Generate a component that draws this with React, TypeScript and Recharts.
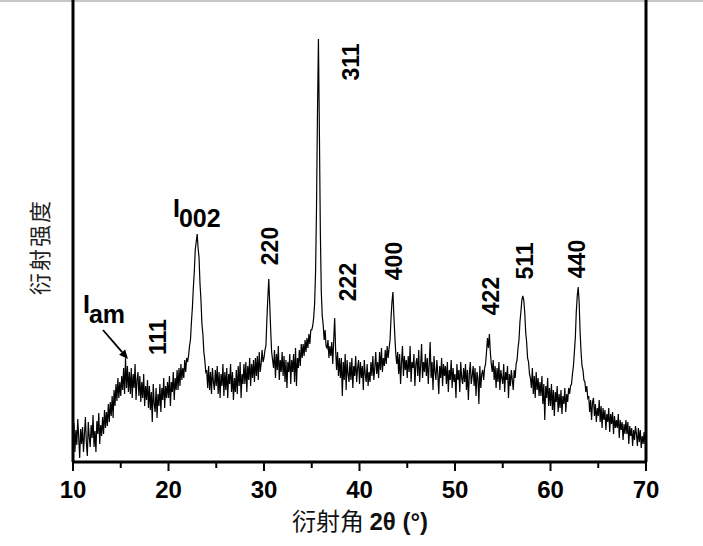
import React from 'react';
import { LineChart, Line, XAxis, YAxis, ReferenceLine, ReferenceDot } from 'recharts';

// Diffraction intensity, one row per degree (2θ = row start + 0.0 … 0.9)
const rowStarts = [10, 11, 12, 13, 14, 15, 16, 17, 18, 19, 20, 21, 22, 23, 24, 25, 26, 27, 28, 29, 30, 31, 32, 33, 34, 35, 36, 37, 38, 39, 40, 41, 42, 43, 44, 45, 46, 47, 48, 49, 50, 51, 52, 53, 54, 55, 56, 57, 58, 59, 60, 61, 62, 63, 64, 65, 66, 67, 68, 69];
const intensityRows: number[][] = [
  [21, 39, 10, 32, 17, 43, 24, 4, 33, 18],
  [35, 10, 28, 45, 19, 6, 40, 25, 15, 37],
  [24, 47, 15, 31, 10, 41, 28, 49, 18, 37],
  [26, 45, 28, 52, 34, 50, 36, 58, 40, 60],
  [46, 66, 44, 72, 56, 78, 61, 84, 64, 80],
  [66, 86, 72, 94, 68, 104, 74, 96, 70, 90],
  [68, 94, 64, 88, 74, 98, 62, 82, 90, 66],
  [86, 60, 80, 64, 88, 56, 76, 62, 82, 54],
  [76, 52, 70, 40, 78, 58, 50, 74, 44, 68],
  [56, 78, 50, 74, 62, 84, 54, 76, 64, 80],
  [64, 86, 56, 80, 70, 90, 62, 84, 72, 92],
  [72, 94, 76, 98, 82, 94, 84, 102, 90, 104],
  [100, 106, 116, 122, 140, 154, 174, 190, 212, 220],
  [228, 214, 204, 178, 162, 138, 128, 110, 102, 90],
  [92, 74, 96, 72, 90, 68, 94, 80, 72, 92],
  [76, 96, 68, 90, 64, 88, 76, 98, 66, 90],
  [72, 94, 64, 88, 78, 98, 70, 90, 62, 84],
  [70, 92, 68, 96, 76, 100, 64, 88, 78, 98],
  [78, 100, 70, 96, 82, 104, 76, 98, 84, 102],
  [80, 104, 86, 106, 82, 110, 90, 98, 112, 100],
  [104, 112, 116, 142, 164, 183, 158, 132, 110, 102],
  [94, 112, 84, 108, 92, 116, 82, 102, 90, 110],
  [86, 106, 80, 102, 74, 100, 90, 108, 78, 102],
  [90, 108, 80, 114, 76, 104, 94, 112, 96, 118],
  [104, 118, 106, 122, 110, 124, 114, 128, 118, 132],
  [132, 136, 144, 158, 190, 255, 350, 423, 330, 230],
  [170, 146, 137, 122, 132, 116, 114, 122, 104, 116],
  [106, 120, 98, 122, 144, 112, 92, 110, 86, 104],
  [84, 104, 66, 100, 82, 108, 72, 102, 88, 80],
  [100, 82, 104, 74, 96, 86, 106, 80, 94, 102],
  [78, 100, 84, 96, 72, 102, 88, 80, 98, 76],
  [90, 80, 100, 86, 106, 82, 94, 110, 88, 100],
  [84, 110, 92, 114, 90, 104, 96, 112, 98, 116],
  [104, 114, 122, 144, 160, 170, 146, 126, 108, 98],
  [110, 88, 108, 78, 100, 116, 86, 106, 92, 102],
  [84, 106, 90, 116, 80, 100, 94, 108, 76, 98],
  [104, 86, 112, 80, 96, 118, 84, 100, 90, 108],
  [86, 104, 78, 98, 120, 84, 100, 72, 106, 90],
  [82, 102, 88, 68, 96, 84, 104, 76, 98, 86],
  [96, 78, 100, 70, 92, 82, 102, 74, 94, 80],
  [88, 64, 98, 82, 92, 70, 100, 84, 78, 94],
  [80, 98, 72, 92, 62, 88, 100, 78, 86, 96],
  [76, 94, 66, 90, 84, 58, 96, 74, 88, 92],
  [82, 94, 98, 110, 124, 114, 128, 110, 98, 90],
  [102, 82, 96, 74, 94, 80, 100, 72, 92, 84],
  [78, 98, 70, 90, 82, 96, 64, 88, 76, 92],
  [82, 72, 92, 84, 98, 102, 114, 122, 140, 150],
  [162, 166, 162, 150, 130, 120, 104, 100, 88, 84],
  [74, 94, 68, 86, 64, 90, 72, 84, 66, 80],
  [66, 86, 58, 78, 42, 76, 64, 84, 56, 74],
  [56, 78, 52, 72, 46, 70, 60, 76, 50, 68],
  [54, 72, 48, 66, 58, 74, 50, 68, 60, 74],
  [68, 76, 78, 88, 96, 110, 124, 150, 166, 175],
  [160, 130, 110, 96, 92, 82, 80, 70, 76, 64],
  [66, 50, 62, 42, 60, 64, 46, 58, 40, 54],
  [46, 62, 40, 56, 34, 54, 42, 52, 32, 48],
  [40, 54, 30, 48, 38, 50, 28, 46, 34, 42],
  [34, 48, 24, 42, 32, 40, 22, 38, 28, 42],
  [28, 40, 18, 36, 26, 34, 16, 32, 22, 36],
  [28, 16, 34, 20, 32, 14, 26, 18, 30, 18],
];
const lastPoint = { theta: 70, I: 24 };

const xTicks = [10, 15, 20, 25, 30, 35, 40, 45, 50, 55, 60, 65, 70];

// Peak labels (rotated), placed at their 2θ / intensity centre
const peakNames = ['311', '220', '222', '400', '422', '511', '440', '111'];
const peakLabelTheta = [39.11, 30.63, 38.8, 43.61, 53.77, 57.33, 62.77, 18.9];
const peakLabelI = [400, 216, 180, 201, 166, 201, 203, 125];

// Subscripted labels
const subLabels = [
  { main: 'I', sub: '002', theta: 20.47, I: 245 },
  { main: 'I', sub: 'am', theta: 11.05, I: 149 },
];
const arrowSegment = [
  { x: 13.14, y: 132 },
  { x: 15.76, y: 103 },
];

const data = [
  ...rowStarts.flatMap((start, r) =>
    intensityRows[r].map((v, k) => ({ theta: +(start + k / 10).toFixed(1), I: v }))
  ),
  lastPoint,
];

const FONT = '"Liberation Sans", Arial, sans-serif';

const XTick = (props: any) => {
  const { x, y, payload } = props;
  const major = payload.value % 10 === 0;
  return (
    <g>
      <line x1={x} x2={x} y1={y} y2={y + (major ? 9 : 6)} stroke="#000" strokeWidth={2} />
      {major && (
        <text x={x} y={y + 36} textAnchor="middle" fontFamily={FONT} fontWeight="bold" fontSize={24} fill="#000">
          {payload.value}
        </text>
      )}
    </g>
  );
};

const rotatedLabel = (text: string) => (p: any) => {
  const { cx, cy } = p;
  return (
    <text
      x={cx}
      y={cy}
      transform={`rotate(-90 ${cx} ${cy})`}
      textAnchor="middle"
      dominantBaseline="central"
      fontFamily={FONT}
      fontWeight="bold"
      fontSize={23}
      fill="#000"
    >
      {text}
    </text>
  );
};

const subLabel = (main: string, sub: string) => (p: any) => {
  const { cx, cy } = p;
  return (
    <text x={cx} y={cy} fontFamily={FONT} fontWeight="bold" fontSize={25} fill="#000">
      <tspan>{main}</tspan>
      <tspan dx={-1} dy={10}>{sub}</tspan>
    </text>
  );
};

const ArrowShape = (p: any) => {
  const { x1, y1, x2, y2 } = p;
  const ang = Math.atan2(y2 - y1, x2 - x1);
  const len = 9;
  const w = 4;
  const bx = x2 - len * Math.cos(ang);
  const by = y2 - len * Math.sin(ang);
  const px = -Math.sin(ang) * w;
  const py = Math.cos(ang) * w;
  return (
    <g>
      <line x1={x1} y1={y1} x2={bx} y2={by} stroke="#000" strokeWidth={1.8} />
      <polygon points={`${x2},${y2} ${bx + px},${by + py} ${bx - px},${by - py}`} fill="#000" />
    </g>
  );
};

export default function App() {
  return (
    <div style={{ position: 'absolute', left: 0, top: 0, width: 703, height: 546, background: '#fff' }}>
      <div style={{ position: 'absolute', left: 0, top: 0, width: 703, height: 2, background: '#c8c8c8' }} />
      <LineChart width={703} height={546} data={data} margin={{ top: 0, right: 57, bottom: 0, left: 73 }}>
        <XAxis
          dataKey="theta"
          type="number"
          domain={[10, 70]}
          ticks={xTicks}
          interval={0}
          allowDataOverflow
          height={84}
          tickSize={0}
          tickMargin={0}
          tickLine={false}
          axisLine={{ stroke: '#000', strokeWidth: 3 }}
          tick={<XTick />}
        />
        <YAxis hide domain={[0, 462]} allowDataOverflow />
        <ReferenceLine x={10} stroke="#000" strokeWidth={3} />
        <ReferenceLine x={70} stroke="#000" strokeWidth={3} />
        <Line
          dataKey="I"
          type="linear"
          stroke="#000"
          strokeWidth={1.2}
          dot={false}
          isAnimationActive={false}
        />
        {peakNames.map((name, i) => (
          <ReferenceDot
            key={name}
            x={peakLabelTheta[i]}
            y={peakLabelI[i]}
            r={0}
            ifOverflow="visible"
            shape={rotatedLabel(name)}
          />
        ))}
        {subLabels.map((s) => (
          <ReferenceDot
            key={s.sub}
            x={s.theta}
            y={s.I}
            r={0}
            ifOverflow="visible"
            shape={subLabel(s.main, s.sub)}
          />
        ))}
        <ReferenceLine segment={arrowSegment} ifOverflow="visible" shape={ArrowShape} />
      </LineChart>
      <div
        style={{
          position: 'absolute',
          left: 0,
          top: 502,
          width: 720,
          textAlign: 'center',
          fontSize: 24,
          color: '#111',
          whiteSpace: 'nowrap',
        }}
      >
        <span style={{ fontFamily: '"Noto Sans CJK SC"' }}>衍射角 </span>
        <span style={{ fontFamily: FONT, fontWeight: 'bold' }}>2θ (°)</span>
      </div>
      <div
        style={{
          position: 'absolute',
          left: 38,
          top: 247,
          transform: 'translate(-50%, -50%) rotate(-90deg)',
          fontFamily: '"Noto Sans CJK SC"',
          fontSize: 22,
          color: '#222',
          whiteSpace: 'nowrap',
          letterSpacing: 2,
        }}
      >
        衍射强度
      </div>
    </div>
  );
}
